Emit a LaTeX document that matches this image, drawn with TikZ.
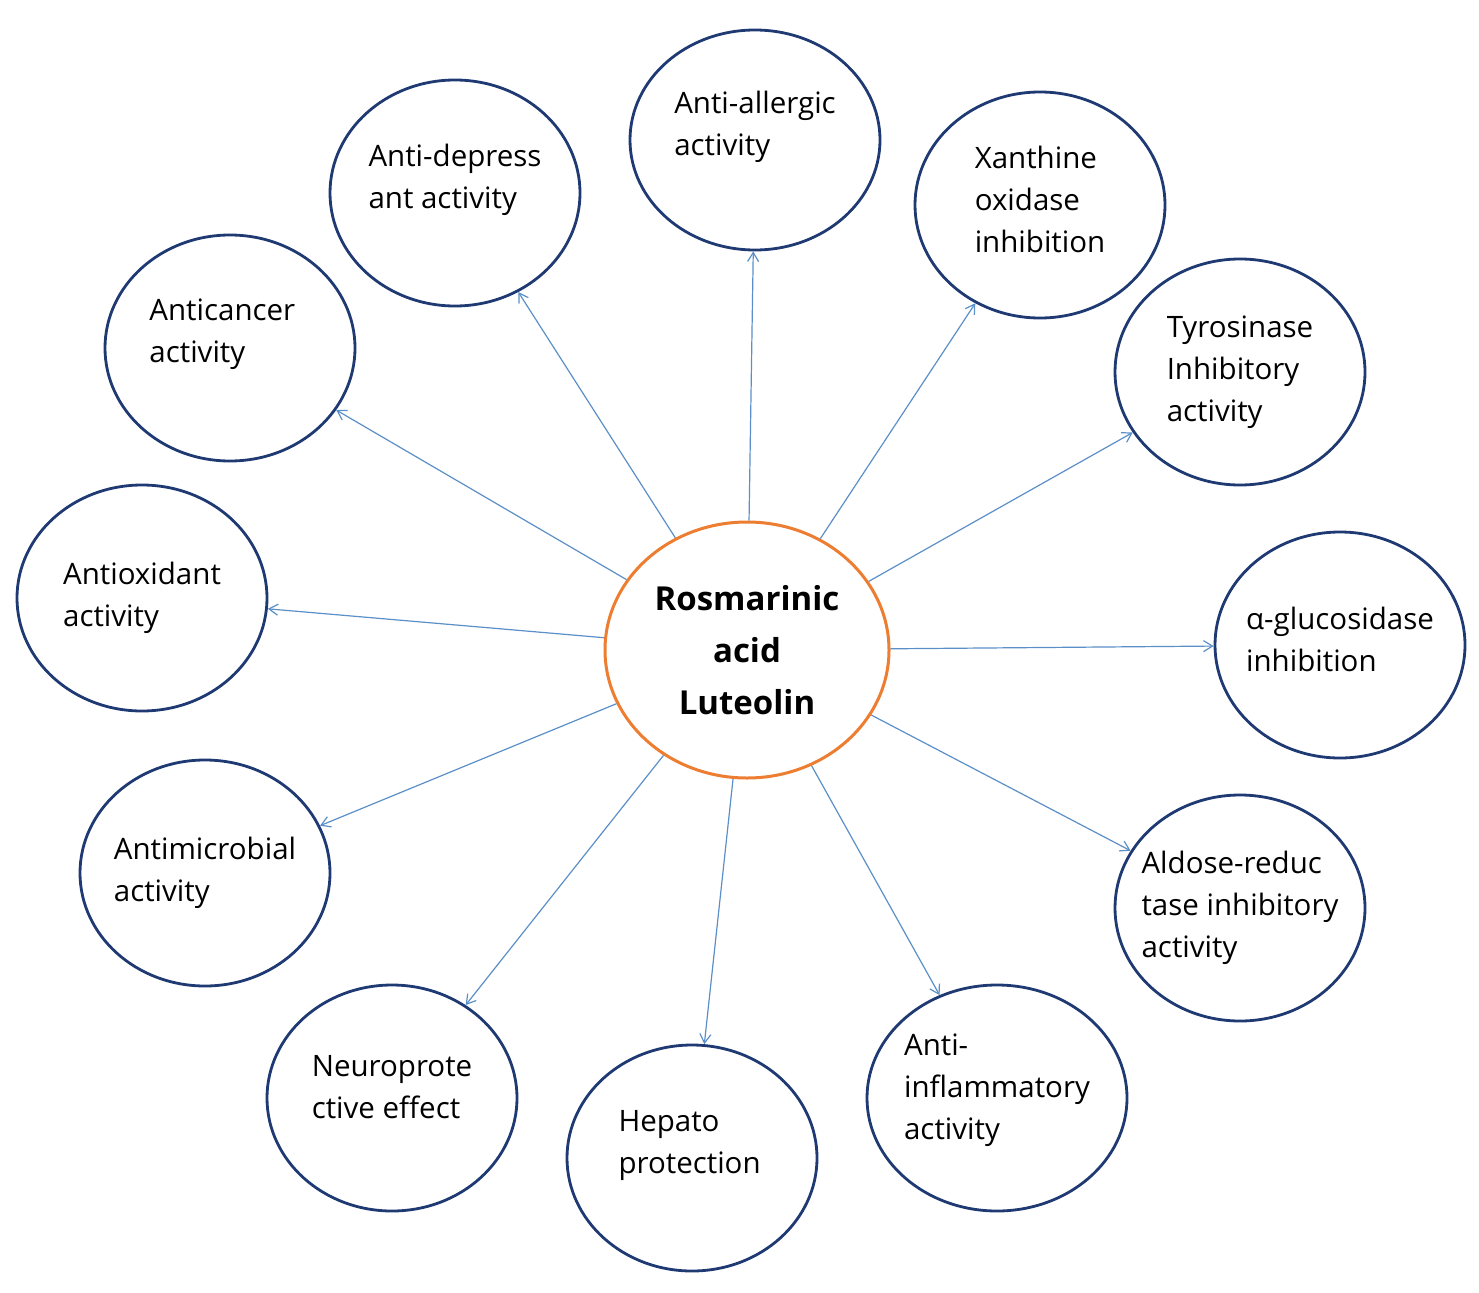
\documentclass[tikz,border=0pt]{standalone}
\usepackage{fontspec}
\setmainfont{Open Sans}
\usetikzlibrary{shapes.geometric,arrows.meta}
\definecolor{navy}{HTML}{1F3A73}
\definecolor{orng}{HTML}{ED7D31}
\definecolor{ablue}{HTML}{5B8FC7}
\begin{document}
\begin{tikzpicture}[x=1pt,y=-1pt,
  leaf/.style={ellipse,draw=navy,line width=2.8pt,minimum width=250pt,minimum height=226pt,inner sep=-40pt,align=left,font=\fontsize{29.5}{42}\selectfont},
  hub/.style={ellipse,draw=orng,line width=3pt,minimum width=284pt,minimum height=256pt,align=center,font=\fontsize{33}{52}\selectfont\bfseries},
  arr/.style={draw=ablue,line width=1.2pt,-{Straight Barb[length=9pt,width=11pt]}}]
\useasboundingbox (0,0) rectangle (1479,1292);
\node[hub] (c) at (747,650) {Rosmarinic\\acid\\Luteolin};
\node[leaf,minimum height=220pt] (a1) at (755,140) {Anti-allergic\\activity\\[-8pt]~};
\node[leaf] (a2) at (455,193) {Anti-depress\\ant activity\\[-8pt]~};
\node[leaf] (a3) at (1040,205) {Xanthine\\oxidase\\inhibition\\[-30pt]~};
\node[leaf] (a4) at (230,348) {Anticancer~~~\\activity\\[-8pt]~};
\node[leaf] (a5) at (1240,372) {Tyrosinase\\Inhibitory\\activity};
\node[leaf] (a6) at (142,598) {Antioxidant\\activity};
\node[leaf] (a7) at (1340,645) {α-glucosidase\\inhibition\\[-30pt]~};
\node[leaf] (a8) at (205,873) {Antimicrobial\\activity~~~~~~~~~};
\node[leaf] (a9) at (1240,908) {Aldose-reduc\\tase inhibitory\\activity};
\node[leaf] (a10) at (392,1098) {Neuroprote\\ctive effect\\[-20pt]~};
\node[leaf] (a11) at (692,1158) {Hepato~~~~~~~\\protection\\[-10pt]~};
\node[leaf,minimum width=260pt] (a12) at (997,1098) {Anti-\\inflammatory\\activity\\[-20pt]~};
\foreach \t in {a1,a2,a3,a4,a5,a6,a7,a8,a9,a10,a11,a12}
  \draw[arr] (c) -- (\t);
\end{tikzpicture}
\end{document}
